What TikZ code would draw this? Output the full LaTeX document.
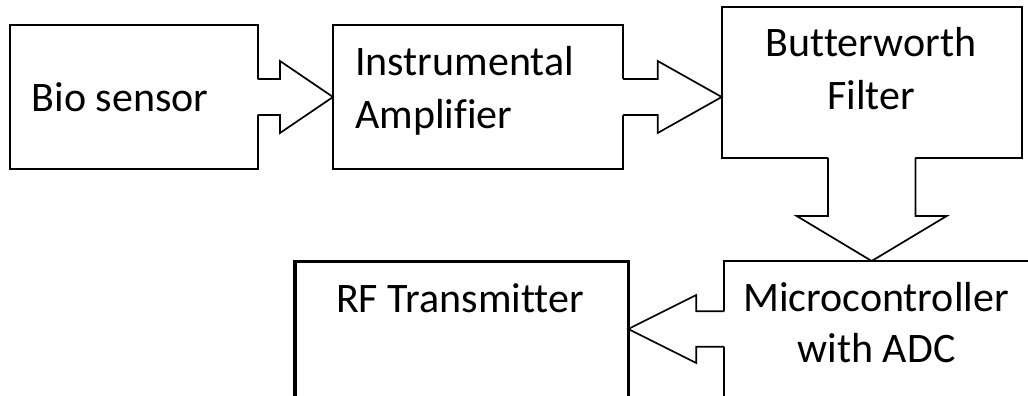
\documentclass[tikz,border=0pt]{standalone}
\usepackage{fontspec}
\setmainfont{Carlito}[Ligatures=NoCommon]
\usetikzlibrary{positioning, calc}

% hollow block arrow: start, end, tail half width, head half width, head length
\newcommand{\blockarrow}[5]{%
  \coordinate (ba-s) at (#1);
  \coordinate (ba-e) at (#2);
  \coordinate (ba-b) at ($(ba-e)!#5!(ba-s)$);
  \coordinate (ba-t1) at ($(ba-s)!#3!90:(ba-e)$);
  \coordinate (ba-t2) at ($(ba-s)!#3!-90:(ba-e)$);
  \coordinate (ba-b1) at ($(ba-b)!#3!90:(ba-e)$);
  \coordinate (ba-b2) at ($(ba-b)!#3!-90:(ba-e)$);
  \coordinate (ba-h1) at ($(ba-b)!#4!90:(ba-e)$);
  \coordinate (ba-h2) at ($(ba-b)!#4!-90:(ba-e)$);
  \fill[white] ($(ba-t1)!-2.5pt!(ba-b1)$) -- (ba-b1) -- (ba-h1) -- (ba-e)
    -- (ba-h2) -- (ba-b2) -- ($(ba-t2)!-2.5pt!(ba-b2)$) -- cycle;
  \draw[arrline] (ba-t1) -- (ba-b1) -- (ba-h1) -- (ba-e) -- (ba-h2) -- (ba-b2) -- (ba-t2);
}

\begin{document}
\begin{tikzpicture}
    [x=1pt, y=-1pt,
     block/.style={draw, rectangle, line width=1.9pt, inner sep=0pt, outer sep=0pt, anchor=north west},
     arrline/.style={line width=1.7pt, line join=miter},
     lbl/.style={inner sep=0pt, font=\fontsize{42}{50}\selectfont}]
    \clip (0,0) rectangle (1028,396);

    \node[block, minimum width=247.7pt, minimum height=144pt] (bio) at (10,25) {};
    \node[block, minimum width=290pt, minimum height=144pt] (amp) at (333,25) {};
    \node[block, minimum width=300pt, minimum height=150.4pt] (filt) at (721.7,7.3) {};
    \node[block, minimum width=320pt, minimum height=150pt] (mcu) at (724.3,261) {};
    \node[block, line width=3.2pt, minimum width=333.3pt, minimum height=150pt] (rf) at (295,261.7) {};

    \blockarrow{bio.east}{amp.west}{18pt}{36pt}{53pt}
    \blockarrow{amp.east}{amp.east -| filt.west}{18pt}{36pt}{64pt}
    \blockarrow{filt.south}{filt.south |- mcu.north}{43.7pt}{75pt}{45pt}
    \coordinate (mcuin) at ($(mcu.north west)+(0,68)$);
    \blockarrow{mcuin}{mcuin -| rf.east}{17.8pt}{34pt}{68pt}

    \node[lbl, anchor=base west] (biotxt) at (31.7,111.7) {Bio sensor};
    \node[lbl, anchor=base west] (amptxt) at (355,75) {Instrumental};
    \node[lbl, anchor=base west] (amptxt2) at (355,128.3) {Amplifier};
    \node[lbl, anchor=base] (filttxt) at (871,56.7) {Butterworth};
    \node[lbl, anchor=base] (filttxt2) at (871,110) {Filter};
    \node[lbl, anchor=base] (mcutxt) at (876,311.7) {Microcontroller};
    \node[lbl, anchor=base] (mcutxt2) at (876.5,362.7) {with ADC};
    \node[lbl, anchor=base] (rftxt) at (460,312.7) {RF Transmitter};
\end{tikzpicture}
\end{document}
